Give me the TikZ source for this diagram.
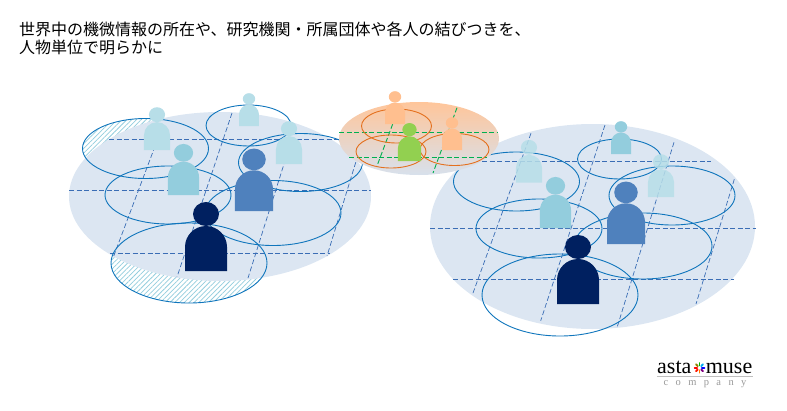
\documentclass[tikz,border=0pt]{standalone}
\usepackage{fontspec}
\newfontfamily\cjk{Noto Sans CJK JP}
\newfontfamily\logofont{Liberation Serif}
\usetikzlibrary{patterns.meta}

\definecolor{blobblue}{HTML}{DCE6F2}
\definecolor{ringblue}{HTML}{0F75BC}
\definecolor{gridblue}{HTML}{3A6DB5}
\definecolor{ringorange}{HTML}{E4701E}
\definecolor{gridgreen}{HTML}{00B050}
\definecolor{navy}{HTML}{002060}
\definecolor{midblue}{HTML}{4F81BD}
\definecolor{teal}{HTML}{93CDDD}
\definecolor{pale}{HTML}{B7DEE8}
\definecolor{peach}{HTML}{FFBF8F}
\definecolor{leaf}{HTML}{92D050}

\tikzset{
    ring/.style={draw=ringblue, line width=0.9pt},
    ringo/.style={draw=ringorange, line width=0.9pt},
    grid/.style={draw=gridblue, line width=0.7pt, dash pattern=on 5pt off 2.5pt},
    gridg/.style={draw=gridgreen, line width=0.9pt, dash pattern=on 5pt off 2.5pt},
    hatch/.style={pattern={Lines[angle=45, distance=3.4pt, line width=0.75pt]}, pattern color=teal},
    heading/.style={anchor=west, inner sep=0pt, font=\cjk\fontsize{16pt}{18pt}\selectfont},
    logotext/.style={inner sep=0pt, font=\logofont\fontsize{22pt}{22pt}\selectfont},
    petal/.style={line width=1.9pt, line cap=round}
}

% person standing on (x, y): colour, x, y, scale
\newcommand{\person}[4]{
    \begin{scope}[shift={(#2,#3)}, scale=#4]
        \fill[#1] (0,-57) ellipse (13 and 12);
        \fill[#1] (-21,0) -- (-21,-24) .. controls (-21,-35.6) and (-11.6,-45) .. (0,-45)
            .. controls (11.6,-45) and (21,-35.6) .. (21,-24) -- (21,0) -- cycle;
    \end{scope}
}

\begin{document}
\begin{tikzpicture}[x=1pt, y=-1pt]
        \useasboundingbox (0,0) rectangle (787,410);

        % === Heading ===
        \node[heading] (line1) at (19,29.5) {世界中の機微情報の所在や、研究機関・所属団体や各人の結びつきを、};
        \node[heading] (line2) at (19,47.5) {人物単位で明らかに};

        % === Left group ===
        \fill[hatch] (145.5,148.5) ellipse (63 and 30);
        \fill[hatch] (189,263) ellipse (78 and 40);
        \fill[blobblue] (220,196.5) ellipse (151 and 84.5);

        % Grid
        \draw[grid] (109,139.5) -- (340,139.5);
        \draw[grid] (69,190) -- (371,190);
        \draw[grid] (110,253) -- (330,253);
        \draw[grid] (163,125) -- (113,258);
        \draw[grid] (232,113) -- (177,277);
        \draw[grid] (290,145) -- (248,278);
        \draw[grid] (358,155) -- (327,256);

        % Circles
        \draw[ring] (145.5,148.5) ellipse (63 and 30);
        \draw[ring] (248.5,125.5) ellipse (42.5 and 20.5);
        \draw[ring] (300.5,162.5) ellipse (62 and 29);
        \draw[ring] (168,195) ellipse (63 and 29);
        \draw[ring] (273,213) ellipse (68 and 32.5);
        \draw[ring] (189,263) ellipse (78 and 40);

        % People
        \person{pale}{157}{150}{0.62}
        \person{pale}{249}{126}{0.476}
        \person{pale}{289}{164}{0.62}
        \person{teal}{183.5}{195}{0.74}
        \person{midblue}{254}{211}{0.905}
        \person{navy}{206}{271}{1}

        % === Right group ===
        \fill[blobblue] (592.5,226.5) ellipse (162.5 and 102.5);

        % Grid
        \draw[grid] (482,161.3) -- (711,161.3);
        \draw[grid] (430,228.3) -- (756,228.3);
        \draw[grid] (453,279.3) -- (734,279.3);
        \draw[grid] (531,133.3) -- (472.3,295);
        \draw[grid] (605,125) -- (540.7,320.7);
        \draw[grid] (674,142.3) -- (617.3,326.7);
        \draw[grid] (734.3,179.3) -- (696,304);

        % Circles
        \draw[ring] (516.5,181.5) ellipse (63 and 29.5);
        \draw[ring] (619.5,159) ellipse (42 and 20);
        \draw[ring] (672,195.5) ellipse (63 and 29.5);
        \draw[ring] (539,228.5) ellipse (63 and 29.5);
        \draw[ring] (643,246) ellipse (69 and 33);
        \draw[ring] (560,295) ellipse (78 and 41);

        % People
        \person{pale, opacity=0.85}{529}{182.7}{0.62}
        \person{teal}{621}{154}{0.476}
        \person{pale, opacity=0.85}{661}{197}{0.62}
        \person{teal}{555.5}{228}{0.74}
        \person{midblue}{626}{244}{0.905}
        \person{navy}{578}{304}{1}

        % === Middle group ===
        \shade[top color=peach!90, middle color=peach!60!blobblue!90, bottom color=blobblue!95!gray] (419,138.5) ellipse (80 and 36.5);

        \draw[gridg] (339,132.3) -- (498,132.3);
        \draw[gridg] (349,157.3) -- (487,157.3);
        \draw[gridg] (392.7,124) -- (376.7,166.7);
        \draw[gridg] (457,107.7) -- (433,173);

        \draw[ringo] (396.5,126) ellipse (35 and 17);
        \draw[ringo] (391,151.5) ellipse (35 and 16.5);
        \draw[ringo] (454.5,149.5) ellipse (34.5 and 16);

        \person{peach}{395}{124}{0.476}
        \person{peach}{452}{150}{0.476}
        \person{leaf}{409.5}{161}{0.55}

        % === Logo ===
        \node[logotext, anchor=base west] (asta) at (657,373) {asta};
        \node[logotext, anchor=base east] (muse) at (752.5,373) {muse};
        \coordinate (star) at (699.5,367.8);
        \foreach \ang/\col in {90/orange, 45/violet, 0/blue, -45/cyan, -90/green!70!black, -135/olive, 180/red, 135/red!80!orange}
            \draw[petal, \col] (star) ++(\ang:2.4) -- ++(\ang:2.4);
        \draw[gray!50, line width=0.5pt] (657,376.5) -- (753,376.5);
        \node[anchor=base, inner sep=0pt, text=gray!80, font=\logofont\fontsize{10.5pt}{11pt}\selectfont] (company) at (705,385.5)
            {c\hspace{7.4pt}o\hspace{7.4pt}m\hspace{7.4pt}p\hspace{7.4pt}a\hspace{7.4pt}n\hspace{7.4pt}y};

\end{tikzpicture}
\end{document}
